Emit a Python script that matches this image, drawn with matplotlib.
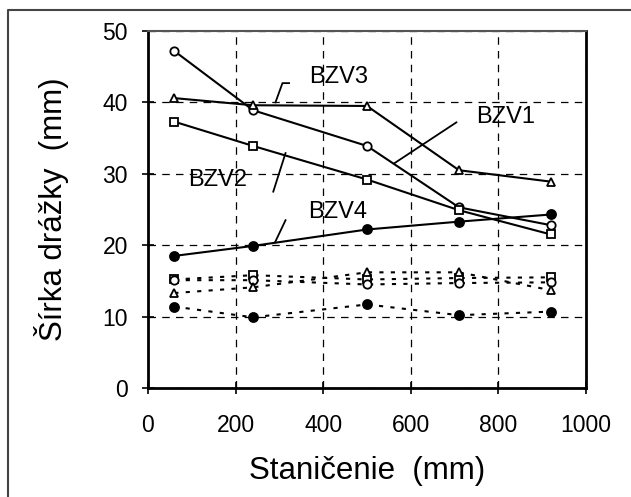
import matplotlib
matplotlib.use("Agg")
import matplotlib.pyplot as plt
from matplotlib.lines import Line2D

plt.rcParams['font.family'] = ['Liberation Sans', 'DejaVu Sans']

stations = [60, 240, 500, 710, 920]

# solid series
bzv1 = [47.2, 38.9, 33.9, 25.3, 22.8]
bzv3 = [40.6, 39.6, 39.5, 30.5, 28.9]
bzv2 = [37.3, 33.9, 29.2, 24.9, 21.5]
bzv4 = [18.5, 19.9, 22.2, 23.3, 24.3]

# dotted series
bzv1_d = [15.1, 15.1, 14.5, 14.7, 14.8]
bzv2_d = [15.2, 15.8, 15.2, 15.4, 15.5]
bzv3_d = [13.3, 14.1, 16.2, 16.2, 13.7]
bzv4_d = [11.4, 9.9, 11.7, 10.2, 10.7]

labels = ["BZV1", "BZV2", "BZV3", "BZV4"]
label_pos = [(816, 38.0), (159, 29.1), (436, 43.6), (433, 24.6)]
leaders = [
    ([563, 704], [31.5, 37.2]),
    ([286, 314], [27.5, 32.9]),
    ([291, 307, 322], [40.0, 42.7, 42.7]),
    ([290, 314], [20.4, 23.5]),
]

xticks = [0, 200, 400, 600, 800, 1000]
yticks = [0, 10, 20, 30, 40, 50]

W, H = 631, 497
fig = plt.figure(figsize=(W / 100, H / 100), dpi=100)
ax = fig.add_axes([148 / W, (H - 388) / H, 438 / W, 357 / H])

styles = [
    (bzv1, 'o', 'white'),
    (bzv3, '^', 'white'),
    (bzv2, 's', 'white'),
    (bzv4, 'o', 'black'),
]
for ys, m, fc in styles:
    ms = 6.5 if fc == 'black' else 6
    ax.plot(stations, ys, color='black', lw=1.5, marker=m, ms=ms,
            mfc=fc, mec='black', mew=1.3, zorder=3)

dstyles = [
    (bzv2_d, 's', 'white'),
    (bzv1_d, 'o', 'white'),
    (bzv3_d, '^', 'white'),
    (bzv4_d, 'o', 'black'),
]
for ys, m, fc in dstyles:
    ms = 6.5 if fc == 'black' else 6
    ax.plot(stations, ys, color='black', lw=1.5, ls=(0, (2, 3.5)), marker=m,
            ms=ms, mfc=fc, mec='black', mew=1.3, zorder=3)

for (lx, ly), txt in zip(label_pos, labels):
    ax.text(lx, ly, txt, fontsize=17, ha='center', va='center', zorder=4)
for xs, ys in leaders:
    ax.plot(xs, ys, color='black', lw=1.3, zorder=4)

ax.set_xlim(0, 1000)
ax.set_ylim(0, 50)
ax.set_xticks(xticks)
ax.set_yticks(yticks)
ax.tick_params(direction='inout', length=9, width=1.2, labelsize=16.5)
ax.tick_params(axis='x', pad=14)
ax.tick_params(axis='y', pad=10)
ax.grid(True, color='black', ls=(0, (6, 5)), lw=0.9)
ax.set_axisbelow(True)

for s in ['left', 'bottom', 'right']:
    ax.spines[s].set_linewidth(2.0)
    ax.spines[s].set_color('black')
ax.spines['top'].set_linewidth(1.5)
ax.spines['top'].set_color('#555555')

ax.set_xlabel("Staničenie  (mm)", fontsize=22.5, labelpad=14)
ax.set_ylabel("Šírka drážky  (mm)", fontsize=22.5, labelpad=24)

# outer chart frame
fig.add_artist(Line2D([8 / W, 8 / W, 1.0], [0.0, 1 - 10 / H, 1 - 10 / H],
                      transform=fig.transFigure, color='#444444', lw=1.5))

fig.savefig("out.png", dpi=100)
